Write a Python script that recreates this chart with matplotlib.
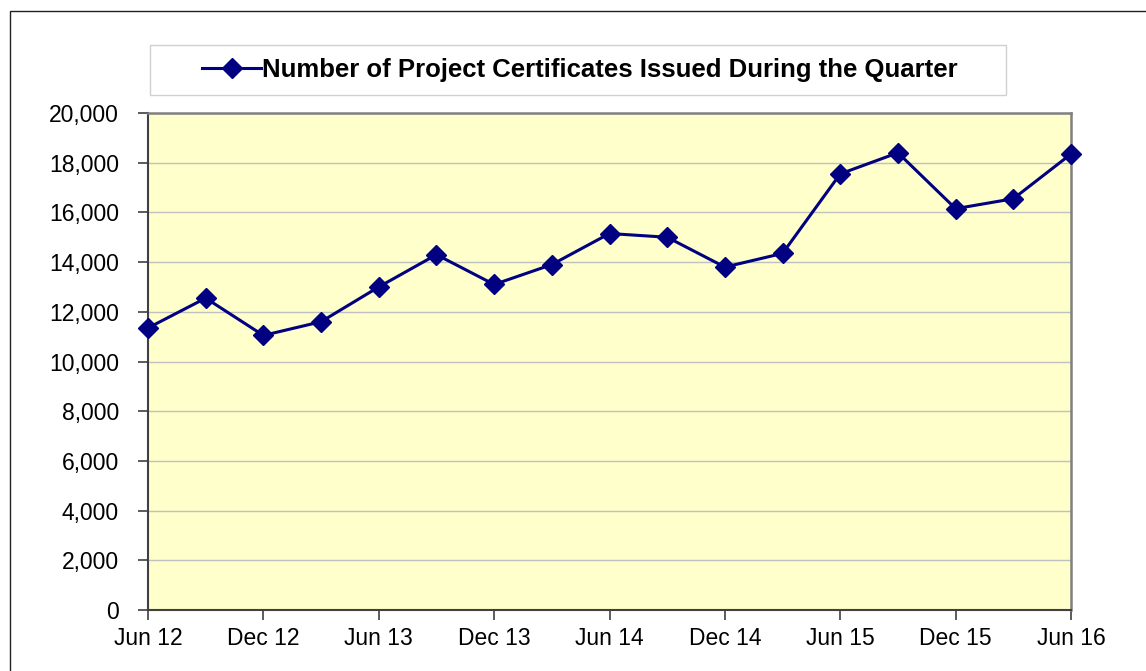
import matplotlib
matplotlib.use("Agg")
import matplotlib.pyplot as plt
from matplotlib.patches import Rectangle
from matplotlib.lines import Line2D

quarters = ["Jun 12", "Sep 12", "Dec 12", "Mar 13", "Jun 13", "Sep 13", "Dec 13", "Mar 14",
            "Jun 14", "Sep 14", "Dec 14", "Mar 15", "Jun 15", "Sep 15", "Dec 15", "Mar 16", "Jun 16"]
certificates = [11350, 12550, 11050, 11600, 13000, 14300, 13100, 13900,
                15150, 15000, 13800, 14350, 17550, 18400, 16150, 16550, 18350]
series_name = "Number of Project Certificates Issued During the Quarter"
y_ticks = [0, 2000, 4000, 6000, 8000, 10000, 12000, 14000, 16000, 18000, 20000]

plt.rcParams['font.family'] = ['Liberation Sans', 'DejaVu Sans']

W, H = 1146, 671
fig = plt.figure(figsize=(W / 100, H / 100), dpi=100)
fig.patch.set_facecolor('white')

# outer chart border
fig.patches.append(Rectangle((10 / W, -0.05), 1.2, 1 - 11 / H + 0.05,
                             transform=fig.transFigure, fill=False,
                             edgecolor='#202020', linewidth=1.0))

# legend box
fig.patches.append(Rectangle((150 / W, 1 - 95 / H), (1006 - 150) / W, (95 - 45) / H,
                             transform=fig.transFigure, fill=True, facecolor='white',
                             edgecolor='#D0D0D0', linewidth=1.0))

ax = fig.add_axes([148 / W, (H - 610) / H, (1071 - 148) / W, (610 - 113) / H])
ax.set_facecolor('#FFFFCC')

x = list(range(len(quarters)))
ax.plot(x, certificates, color='#000080', linewidth=2.2, marker='D',
        markersize=10, markerfacecolor='#000080', markeredgecolor='#000080', zorder=5,
        clip_on=False)

ax.set_xlim(0, len(quarters) - 1)
ax.set_ylim(0, 20000)
ax.set_yticks(y_ticks)
ax.set_yticklabels([f"{v:,}" for v in y_ticks])
ax.set_xticks(x[::2])
ax.set_xticklabels(quarters[::2])

ax.grid(axis='y', color='#C0C0C0', linewidth=1.0)
ax.set_axisbelow(True)

for side in ['top', 'right']:
    ax.spines[side].set_color('#808080')
    ax.spines[side].set_linewidth(1.8)
ax.spines['left'].set_color('#404040')
ax.spines['bottom'].set_color('#404040')
ax.spines['left'].set_linewidth(1.5)
ax.spines['bottom'].set_linewidth(1.5)

ax.tick_params(axis='both', direction='out', length=7, width=1.2, color='#404040',
               labelsize=16.5, labelcolor='black')
ax.tick_params(axis='y', pad=14)
ax.tick_params(axis='x', pad=5)

# legend
handle = Line2D([], [], color='#000080', linewidth=2.2, marker='D', markersize=10,
                markerfacecolor='#000080')
leg = fig.legend([handle], [series_name], loc='center',
                 bbox_to_anchor=(580 / W, 1 - 70 / H),
                 frameon=False,
                 prop={'weight': 'bold', 'size': 18.5},
                 handlelength=2.3, handletextpad=0.05, borderpad=0.3,
                 borderaxespad=0)

fig.savefig('out.png', dpi=100)
